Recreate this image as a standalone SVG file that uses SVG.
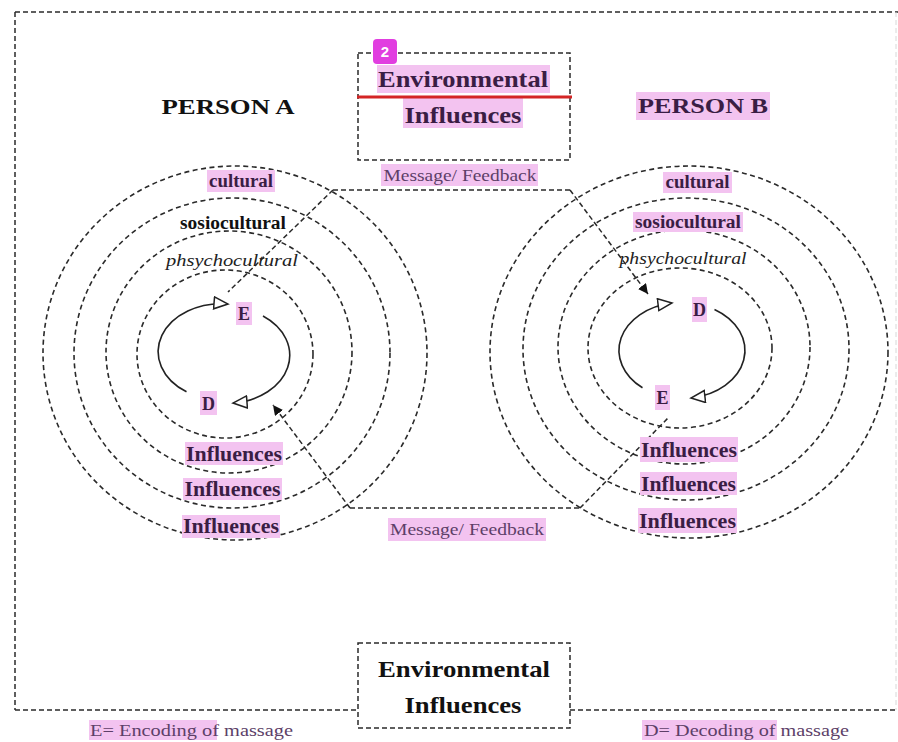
<svg xmlns="http://www.w3.org/2000/svg" width="898" height="742" viewBox="0 0 898 742">
<defs>
<style>
.d{fill:none;stroke:#2a2a2a;stroke-width:1.5;stroke-dasharray:5 3}
.c{fill:none;stroke:#2a2a2a;stroke-width:1.6;stroke-dasharray:5 3.5}
.s{fill:none;stroke:#222;stroke-width:1.6}
.hl{fill:#f3c3f0}
.t{font-family:"Liberation Serif","Times New Roman",serif;font-weight:bold;fill:#111;text-anchor:middle}
.p{font-family:"Liberation Serif","Times New Roman",serif;font-weight:bold;fill:#3a1d44;text-anchor:middle}
.m{font-family:"Liberation Serif","Times New Roman",serif;fill:#5d3f68;text-anchor:middle}
.ms{font-family:"Liberation Serif","Times New Roman",serif;fill:#5d3f68;text-anchor:start}
.i{font-family:"Liberation Serif","Times New Roman",serif;font-style:italic;fill:#222;text-anchor:middle}
</style>
<marker id="open" markerUnits="userSpaceOnUse" markerWidth="18" markerHeight="16" refX="15" refY="7" orient="auto">
<path d="M1,1 L15,7 L1,13 Z" fill="#fff" stroke="#222" stroke-width="1.5"/>
</marker>
<marker id="fill" markerUnits="userSpaceOnUse" markerWidth="12" markerHeight="12" refX="10" refY="5" orient="auto">
<path d="M0,0 L10,5 L0,10 Z" fill="#111"/>
</marker>
</defs>
<rect width="898" height="742" fill="#fff"/>

<g id="frame">
<path class="d" d="M15,12 H898 M15,12 V710 M15,710 H358 M570,710 H898"/>
<path d="M896,12 V710" fill="none" stroke="#d8d8d8" stroke-width="1" stroke-dasharray="5 3"/>
</g>

<g id="connectors">
<path class="d" d="M333,190 H570"/>
<path class="d" d="M333,190 L228,292"/>
<path class="d" d="M570,190 L648,294" marker-end="url(#fill)"/>
<path class="d" d="M350,508 H580"/>
<path class="d" d="M350,508 L273,405" marker-end="url(#fill)"/>
<path class="d" d="M580,508 L668,418"/>
</g>

<g id="person-a">
<ellipse class="c" cx="235" cy="353" rx="192" ry="187"/>
<ellipse class="c" cx="232" cy="353" rx="158" ry="155"/>
<ellipse class="c" cx="229" cy="352" rx="123" ry="121"/>
<ellipse class="c" cx="225" cy="354" rx="88" ry="84"/>
<path class="s" d="M186.5,391.8 A63 48 0 0 1 228,304" marker-end="url(#open)"/>
<path class="s" d="M263,316 A63 48 0 0 1 233,403" marker-end="url(#open)"/>
<text class="t" x="228" y="114" font-size="22" textLength="133" lengthAdjust="spacingAndGlyphs">PERSON A</text>
<rect class="hl" x="207" y="170" width="68" height="22"/>
<text class="p" x="241" y="187" font-size="18" textLength="64" lengthAdjust="spacingAndGlyphs">cultural</text>
<text class="t" x="233" y="229" font-size="18" textLength="106" lengthAdjust="spacingAndGlyphs">sosiocultural</text>
<text class="i" x="232" y="266" font-size="17" textLength="132" lengthAdjust="spacingAndGlyphs">phsychocultural</text>
<rect class="hl" x="236" y="302" width="16" height="23"/>
<text class="p" x="244" y="320" font-size="18">E</text>
<rect class="hl" x="200" y="391" width="17" height="24"/>
<text class="p" x="208.5" y="410" font-size="18">D</text>
<rect class="hl" x="185" y="442" width="98" height="23"/>
<text class="p" x="234" y="461" font-size="20" textLength="96" lengthAdjust="spacingAndGlyphs">Influences</text>
<rect class="hl" x="183" y="478" width="99" height="22"/>
<text class="p" x="232.5" y="496" font-size="20" textLength="96" lengthAdjust="spacingAndGlyphs">Influences</text>
<rect class="hl" x="182" y="515" width="98" height="23"/>
<text class="p" x="231" y="533" font-size="20" textLength="96" lengthAdjust="spacingAndGlyphs">Influences</text>
</g>

<g id="person-b">
<ellipse class="c" cx="689" cy="352" rx="199" ry="186"/>
<ellipse class="c" cx="686" cy="349" rx="163" ry="151"/>
<ellipse class="c" cx="684" cy="347" rx="126" ry="117"/>
<ellipse class="c" cx="680" cy="348" rx="92" ry="80"/>
<path class="s" d="M642.5,387.8 A63 48 0 0 1 672,303" marker-end="url(#open)"/>
<path class="s" d="M714.5,309.4 A63 48 0 0 1 691,398" marker-end="url(#open)"/>
<rect class="hl" x="636" y="92" width="134" height="28"/>
<text class="p" x="703" y="113" font-size="22" textLength="130" lengthAdjust="spacingAndGlyphs">PERSON B</text>
<rect class="hl" x="663" y="172" width="69" height="21"/>
<text class="p" x="697.5" y="188" font-size="18" textLength="64" lengthAdjust="spacingAndGlyphs">cultural</text>
<rect class="hl" x="633" y="212" width="110" height="20"/>
<text class="p" x="688" y="228" font-size="18" textLength="106" lengthAdjust="spacingAndGlyphs">sosiocultural</text>
<text class="i" x="683" y="264" font-size="17" textLength="127" lengthAdjust="spacingAndGlyphs">phsychocultural</text>
<rect class="hl" x="692" y="297" width="15" height="25"/>
<text class="p" x="699.5" y="316" font-size="18">D</text>
<rect class="hl" x="655" y="385" width="15" height="25"/>
<text class="p" x="662.5" y="404" font-size="18">E</text>
<rect class="hl" x="640" y="437" width="98" height="25"/>
<text class="p" x="689" y="457" font-size="20" textLength="96" lengthAdjust="spacingAndGlyphs">Influences</text>
<rect class="hl" x="640" y="472" width="97" height="23"/>
<text class="p" x="688.5" y="491" font-size="20" textLength="95" lengthAdjust="spacingAndGlyphs">Influences</text>
<rect class="hl" x="638" y="508" width="99" height="25"/>
<text class="p" x="687.5" y="528" font-size="20" textLength="97" lengthAdjust="spacingAndGlyphs">Influences</text>
</g>

<g id="env-top">
<rect class="d" x="358" y="53" width="212" height="107"/>
<rect class="hl" x="377" y="65" width="173" height="28"/>
<text class="p" x="463" y="87" font-size="24" textLength="170" lengthAdjust="spacingAndGlyphs">Environmental</text>
<rect class="hl" x="403" y="97" width="120" height="31"/>
<text class="p" x="463" y="123" font-size="24" textLength="117" lengthAdjust="spacingAndGlyphs">Influences</text>
<path d="M357,97 H572" stroke="#d42525" stroke-width="3"/>
<rect x="373" y="39" width="24" height="25" rx="4" fill="#e13ee0"/>
<text x="385" y="57" font-family="Liberation Sans, Arial, sans-serif" font-size="15" font-weight="bold" fill="#fff" text-anchor="middle">2</text>
</g>

<g id="label-message-top">
<rect class="hl" x="381" y="164" width="157" height="22"/>
<text class="m" x="460" y="181" font-size="17" textLength="153" lengthAdjust="spacingAndGlyphs">Message/ Feedback</text>
</g>

<g id="label-message-bottom">
<rect class="hl" x="388" y="518" width="158" height="23"/>
<text class="m" x="467" y="535" font-size="17" textLength="154" lengthAdjust="spacingAndGlyphs">Message/ Feedback</text>
</g>

<g id="env-bottom">
<rect class="d" x="358" y="643" width="212" height="85"/>
<text class="t" x="464" y="677" font-size="24" textLength="172" lengthAdjust="spacingAndGlyphs">Environmental</text>
<text class="t" x="463" y="713" font-size="24" textLength="117" lengthAdjust="spacingAndGlyphs">Influences</text>
</g>

<g id="legend">
<rect class="hl" x="89" y="720" width="128" height="20"/>
<text class="ms" x="90" y="736" font-size="16" textLength="203" lengthAdjust="spacingAndGlyphs">E= Encoding of massage</text>
<rect class="hl" x="642" y="720" width="135" height="20"/>
<text class="ms" x="644" y="736" font-size="16" textLength="205" lengthAdjust="spacingAndGlyphs">D= Decoding of massage</text>
</g>
</svg>
